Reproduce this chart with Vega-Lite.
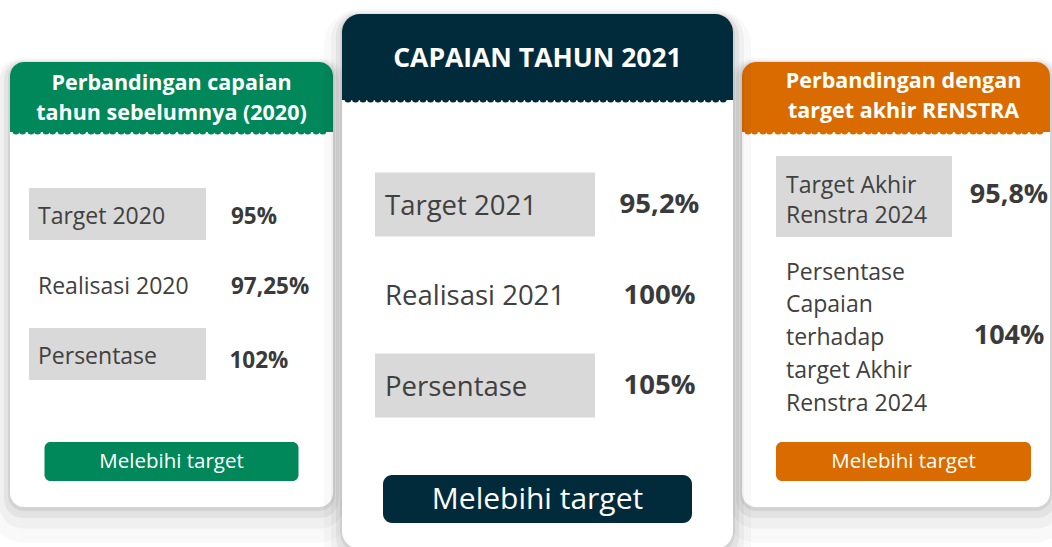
{
  "$schema": "https://vega.github.io/schema/vega-lite/v6.json",
  "width": 1052,
  "height": 547,
  "padding": 0,
  "autosize": "none",
  "background": "white",
  "config": {
    "view": {"stroke": null},
    "text": {"font": "Open Sans"},
    "locale": {"number": {"decimal": ",", "thousands": ".", "grouping": [3], "currency": ["Rp", ""]}}
  },
  "data": {
    "values": [
      {"panel": "2020", "bagian": "judul", "teks": "Perbandingan capaian\ntahun sebelumnya (2020)"},
      {"panel": "2020", "bagian": "target", "teks": "Target 2020", "nilai": 0.95},
      {"panel": "2020", "bagian": "realisasi", "teks": "Realisasi 2020", "nilai": 0.9725},
      {"panel": "2020", "bagian": "persentase", "teks": "Persentase", "nilai": 1.02},
      {"panel": "2020", "bagian": "status", "teks": "Melebihi target"},
      {"panel": "2021", "bagian": "judul", "teks": "CAPAIAN TAHUN 2021"},
      {"panel": "2021", "bagian": "target", "teks": "Target 2021", "nilai": 0.952},
      {"panel": "2021", "bagian": "realisasi", "teks": "Realisasi 2021", "nilai": 1.0},
      {"panel": "2021", "bagian": "persentase", "teks": "Persentase", "nilai": 1.05},
      {"panel": "2021", "bagian": "status", "teks": "Melebihi target"},
      {"panel": "2024", "bagian": "judul", "teks": "Perbandingan dengan\ntarget akhir RENSTRA"},
      {"panel": "2024", "bagian": "target", "teks": "Target Akhir\nRenstra 2024", "nilai": 0.958},
      {"panel": "2024", "bagian": "persentase", "teks": "Persentase\nCapaian\nterhadap\ntarget Akhir\nRenstra 2024", "nilai": 1.04},
      {"panel": "2024", "bagian": "status", "teks": "Melebihi target"}
    ]
  },
  "encoding": {
    "x": {"field": "panel", "type": "nominal", "axis": null,
          "scale": {"type": "point", "domain": ["2020", "2021", "2024"], "range": [171.5, 903.5], "padding": 0}}
  },
  "resolve": {"scale": {"y": "independent"}},
  "layer": [
    {
      "transform": [{"filter": "datum.panel == '2020'"}],
      "encoding": {
        "y": {"field": "bagian", "type": "nominal", "axis": null,
              "scale": {"type": "point", "domain": ["judul", "target", "realisasi", "persentase", "status"], "range": [144, 424], "padding": 0}}
      },
      "layer": [
        {"transform": [{"filter": "datum.bagian == 'judul'"}],
         "mark": {"type": "rect", "fill": "#000", "fillOpacity": 0.025, "width": 359, "height": 485, "yOffset": 156, "cornerRadius": 32}},
        {"transform": [{"filter": "datum.bagian == 'judul'"}],
         "mark": {"type": "rect", "fill": "#000", "fillOpacity": 0.035, "width": 345, "height": 469, "yOffset": 150, "cornerRadius": 24}},
        {"transform": [{"filter": "datum.bagian == 'judul'"}],
         "mark": {"type": "rect", "fill": "#000", "fillOpacity": 0.05, "width": 335, "height": 457, "yOffset": 145.5, "cornerRadius": 19}},
        {"transform": [{"filter": "datum.bagian == 'judul'"}],
         "mark": {"type": "rect", "fill": "#000", "fillOpacity": 0.07, "width": 327, "height": 449, "yOffset": 142.5, "cornerRadius": 16}},
        {"transform": [{"filter": "datum.bagian == 'judul'"}],
         "mark": {"type": "rect", "fill": "white", "width": 323, "height": 445, "yOffset": 140.5, "cornerRadius": 14}},
        {"transform": [{"filter": "datum.bagian == 'judul'"}],
         "mark": {"type": "rect", "fill": "#00875a", "width": 323, "height": 70, "yOffset": -47, "cornerRadiusTopLeft": 14, "cornerRadiusTopRight": 14}},
        {"transform": [{"filter": "datum.bagian == 'judul'"}],
         "mark": {"type": "rect", "fill": "transparent", "stroke": "#00875a", "strokeWidth": 7, "strokeDash": [0.01, 15], "strokeCap": "round", "width": 311, "height": 0.01, "yOffset": -13}},
        {"transform": [{"filter": "datum.bagian == 'judul'"}],
         "mark": {"type": "text", "color": "white", "fontWeight": "bold", "fontSize": 21.5, "lineHeight": 30, "align": "center", "baseline": "middle", "lineBreak": "\n", "yOffset": -60},
         "encoding": {"text": {"field": "teks"}}},
        {"transform": [{"filter": "datum.bagian == 'target' || datum.bagian == 'persentase'"}],
         "mark": {"type": "rect", "fill": "#d9d9d9", "width": 177, "height": 52, "xOffset": -54}},
        {"transform": [{"filter": "isValid(datum.nilai)"}],
         "mark": {"type": "text", "color": "#404040", "fontSize": 23, "align": "left", "baseline": "middle", "xOffset": -133.5, "yOffset": 2.5},
         "encoding": {"text": {"field": "teks"}}},
        {"transform": [{"filter": "isValid(datum.nilai) && datum.bagian != 'persentase'"}],
         "mark": {"type": "text", "color": "#3a3a3a", "fontWeight": "bold", "fontSize": 22.5, "align": "left", "baseline": "middle", "xOffset": 59.5, "yOffset": 2.5},
         "encoding": {"text": {"field": "nilai", "type": "quantitative", "format": ".2~%"}}},
        {"transform": [{"filter": "datum.bagian == 'persentase'"}],
         "mark": {"type": "text", "color": "#3a3a3a", "fontWeight": "bold", "fontSize": 22.5, "align": "left", "baseline": "middle", "xOffset": 58, "yOffset": 7},
         "encoding": {"text": {"field": "nilai", "type": "quantitative", "format": ".2~%"}}},
        {"transform": [{"filter": "datum.bagian == 'status'"}],
         "mark": {"type": "rect", "fill": "#00875a", "width": 254, "height": 39, "yOffset": 37.5, "cornerRadius": 6}},
        {"transform": [{"filter": "datum.bagian == 'status'"}],
         "mark": {"type": "text", "color": "white", "fontSize": 20.5, "align": "center", "baseline": "middle", "yOffset": 38},
         "encoding": {"text": {"field": "teks"}}}
      ]
    },
    {
      "transform": [{"filter": "datum.panel == '2024'"}],
      "encoding": {
        "y": {"field": "bagian", "type": "nominal", "axis": null,
              "scale": {"type": "point", "domain": ["judul", "target", "persentase", "status"], "range": [55.5, 478.5], "padding": 0}}
      },
      "layer": [
        {"transform": [{"filter": "datum.bagian == 'judul'"}],
         "mark": {"type": "rect", "fill": "#000", "fillOpacity": 0.025, "width": 344, "height": 485, "xOffset": -7.5, "yOffset": 244.5, "cornerRadius": 32}},
        {"transform": [{"filter": "datum.bagian == 'judul'"}],
         "mark": {"type": "rect", "fill": "#000", "fillOpacity": 0.035, "width": 330, "height": 469, "xOffset": -7.5, "yOffset": 238.5, "cornerRadius": 24}},
        {"transform": [{"filter": "datum.bagian == 'judul'"}],
         "mark": {"type": "rect", "fill": "#000", "fillOpacity": 0.05, "width": 320, "height": 457, "xOffset": -7.5, "yOffset": 234, "cornerRadius": 19}},
        {"transform": [{"filter": "datum.bagian == 'judul'"}],
         "mark": {"type": "rect", "fill": "#000", "fillOpacity": 0.07, "width": 312, "height": 449, "xOffset": -7.5, "yOffset": 231, "cornerRadius": 16}},
        {"transform": [{"filter": "datum.bagian == 'judul'"}],
         "mark": {"type": "rect", "fill": "white", "width": 308, "height": 445, "xOffset": -7.5, "yOffset": 229, "cornerRadius": 14}},
        {"transform": [{"filter": "datum.bagian == 'judul'"}],
         "mark": {"type": "rect", "fill": "#d96b00", "width": 308, "height": 70, "xOffset": -7.5, "yOffset": 41.5, "cornerRadiusTopLeft": 14, "cornerRadiusTopRight": 14}},
        {"transform": [{"filter": "datum.bagian == 'judul'"}],
         "mark": {"type": "rect", "fill": "transparent", "stroke": "#d96b00", "strokeWidth": 7, "strokeDash": [0.01, 15], "strokeCap": "round", "width": 296, "height": 0.01, "xOffset": -7.5, "yOffset": 75.5}},
        {"transform": [{"filter": "datum.bagian == 'judul'"}],
         "mark": {"type": "text", "color": "white", "fontWeight": "bold", "fontSize": 21.5, "lineHeight": 30, "align": "center", "baseline": "middle", "lineBreak": "\n", "yOffset": 26},
         "encoding": {"text": {"field": "teks"}}},
        {"transform": [{"filter": "datum.bagian == 'target'"}],
         "mark": {"type": "rect", "fill": "#d9d9d9", "width": 176, "height": 81, "xOffset": -39.5}},
        {"transform": [{"filter": "datum.bagian == 'target'"}],
         "mark": {"type": "text", "color": "#404040", "fontSize": 23, "lineHeight": 30, "align": "left", "baseline": "middle", "lineBreak": "\n", "xOffset": -117.5, "yOffset": -11},
         "encoding": {"text": {"field": "teks"}}},
        {"transform": [{"filter": "datum.bagian == 'persentase'"}],
         "mark": {"type": "text", "color": "#404040", "fontSize": 23, "lineHeight": 32.8, "align": "left", "baseline": "middle", "lineBreak": "\n", "xOffset": -117.5, "yOffset": -65},
         "encoding": {"text": {"field": "teks"}}},
        {"transform": [{"filter": "isValid(datum.nilai)"}],
         "mark": {"type": "text", "color": "#3a3a3a", "fontWeight": "bold", "fontSize": 27, "align": "center", "baseline": "middle", "xOffset": 105.5, "yOffset": -1.5},
         "encoding": {"text": {"field": "nilai", "type": "quantitative", "format": ".2~%"}}},
        {"transform": [{"filter": "datum.bagian == 'status'"}],
         "mark": {"type": "rect", "fill": "#d96b00", "width": 255, "height": 39, "yOffset": -17, "cornerRadius": 6}},
        {"transform": [{"filter": "datum.bagian == 'status'"}],
         "mark": {"type": "text", "color": "white", "fontSize": 20.5, "align": "center", "baseline": "middle", "yOffset": -16.5},
         "encoding": {"text": {"field": "teks"}}}
      ]
    },
    {
      "transform": [{"filter": "datum.panel == '2021'"}],
      "encoding": {
        "y": {"field": "bagian", "type": "nominal", "axis": null,
              "scale": {"type": "point", "domain": ["judul", "target", "realisasi", "persentase", "status"], "range": [113.5, 475.5], "padding": 0}}
      },
      "layer": [
        {"transform": [{"filter": "datum.bagian == 'judul'"}],
         "mark": {"type": "rect", "fill": "#000", "fillOpacity": 0.025, "width": 427, "height": 575, "yOffset": 183, "cornerRadius": 36}},
        {"transform": [{"filter": "datum.bagian == 'judul'"}],
         "mark": {"type": "rect", "fill": "#000", "fillOpacity": 0.035, "width": 413, "height": 559, "yOffset": 177, "cornerRadius": 28}},
        {"transform": [{"filter": "datum.bagian == 'judul'"}],
         "mark": {"type": "rect", "fill": "#000", "fillOpacity": 0.05, "width": 403, "height": 547, "yOffset": 173, "cornerRadius": 23}},
        {"transform": [{"filter": "datum.bagian == 'judul'"}],
         "mark": {"type": "rect", "fill": "#000", "fillOpacity": 0.07, "width": 395, "height": 539, "yOffset": 170, "cornerRadius": 20}},
        {"transform": [{"filter": "datum.bagian == 'judul'"}],
         "mark": {"type": "rect", "fill": "white", "width": 391, "height": 535, "yOffset": 168, "cornerRadius": 18}},
        {"transform": [{"filter": "datum.bagian == 'judul'"}],
         "mark": {"type": "rect", "fill": "#012b3a", "width": 391, "height": 86, "yOffset": -56.5, "cornerRadiusTopLeft": 18, "cornerRadiusTopRight": 18}},
        {"transform": [{"filter": "datum.bagian == 'judul'"}],
         "mark": {"type": "rect", "fill": "transparent", "stroke": "#012b3a", "strokeWidth": 7, "strokeDash": [0.01, 15], "strokeCap": "round", "width": 379, "height": 0.01, "yOffset": -14.5}},
        {"transform": [{"filter": "datum.bagian == 'judul'"}],
         "mark": {"type": "text", "color": "white", "fontWeight": "bold", "fontSize": 26.5, "align": "center", "baseline": "middle", "yOffset": -55},
         "encoding": {"text": {"field": "teks"}}},
        {"transform": [{"filter": "datum.bagian == 'target' || datum.bagian == 'persentase'"}],
         "mark": {"type": "rect", "fill": "#d9d9d9", "width": 220, "height": 64, "xOffset": -52.5, "yOffset": 0.5}},
        {"transform": [{"filter": "isValid(datum.nilai)"}],
         "mark": {"type": "text", "color": "#404040", "fontSize": 27.5, "align": "left", "baseline": "middle", "xOffset": -152.5, "yOffset": 2.5},
         "encoding": {"text": {"field": "teks"}}},
        {"transform": [{"filter": "isValid(datum.nilai)"}],
         "mark": {"type": "text", "color": "#3a3a3a", "fontWeight": "bold", "fontSize": 27.5, "align": "center", "baseline": "middle", "xOffset": 122, "yOffset": 1},
         "encoding": {"text": {"field": "nilai", "type": "quantitative", "format": ".2~%"}}},
        {"transform": [{"filter": "datum.bagian == 'status'"}],
         "mark": {"type": "rect", "fill": "#012b3a", "width": 309, "height": 48, "yOffset": 23.5, "cornerRadius": 9}},
        {"transform": [{"filter": "datum.bagian == 'status'"}],
         "mark": {"type": "text", "color": "white", "fontSize": 30, "align": "center", "baseline": "middle", "yOffset": 24},
         "encoding": {"text": {"field": "teks"}}}
      ]
    }
  ]
}
